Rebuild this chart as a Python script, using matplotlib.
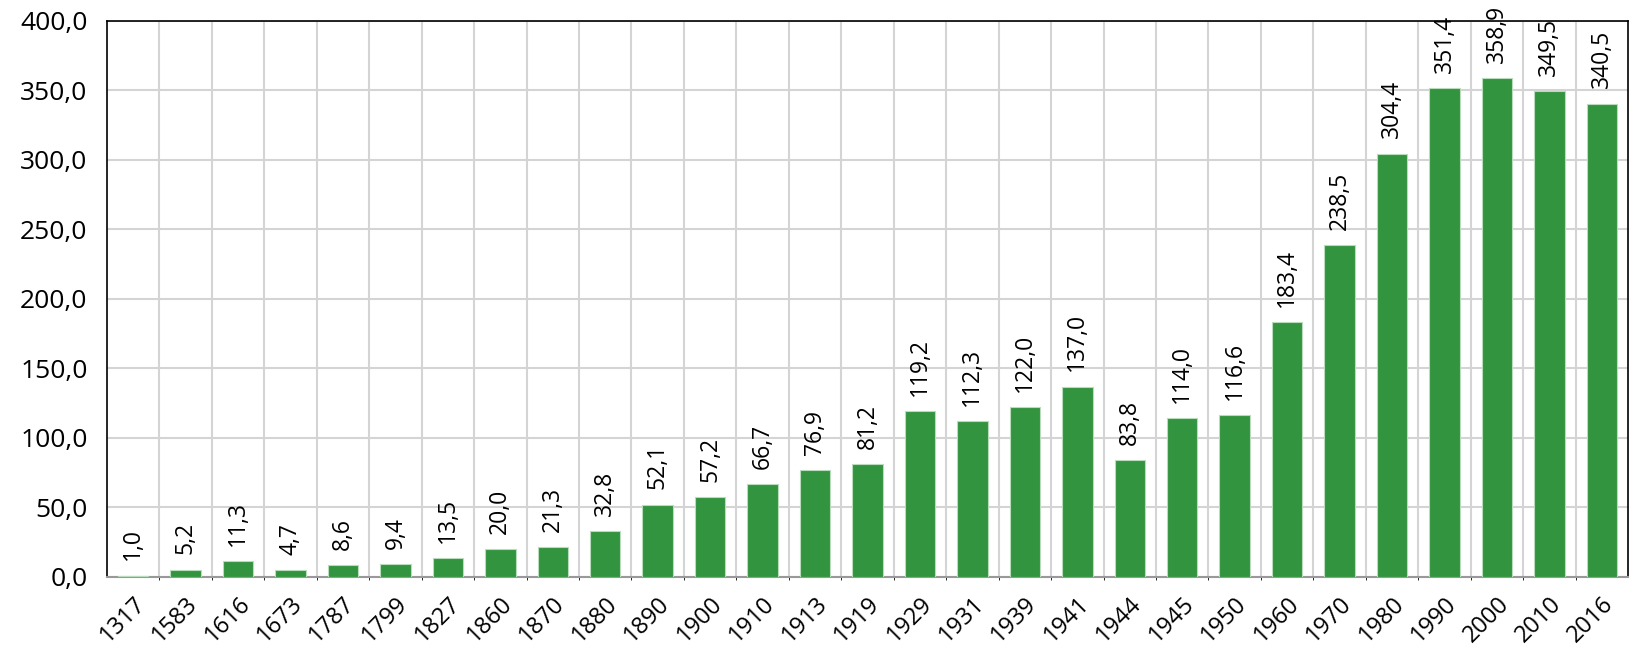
import matplotlib.pyplot as plt

plt.rcParams['font.family'] = ['Open Sans', 'DejaVu Sans']

years = ['1317', '1583', '1616', '1673', '1787', '1799', '1827', '1860', '1870', '1880',
         '1890', '1900', '1910', '1913', '1919', '1929', '1931', '1939', '1941', '1944',
         '1945', '1950', '1960', '1970', '1980', '1990', '2000', '2010', '2016']
values = [1.0, 5.2, 11.3, 4.7, 8.6, 9.4, 13.5, 20.0, 21.3, 32.8,
          52.1, 57.2, 66.7, 76.9, 81.2, 119.2, 112.3, 122.0, 137.0, 83.8,
          114.0, 116.6, 183.4, 238.5, 304.4, 351.4, 358.9, 349.5, 340.5]

fig, ax = plt.subplots(figsize=(16.3, 6.51), dpi=100)
fig.subplots_adjust(left=0.0656, right=0.9988, top=0.968, bottom=0.1137)

x = range(len(years))
bars = ax.bar(x, values, width=0.58, color='#339440', edgecolor='#b9dcbc', linewidth=0.8, zorder=3)

for bar, v in zip(bars, values):
    ax.annotate(f'{v:.1f}'.replace('.', ','),
                (bar.get_x() + bar.get_width() / 2, bar.get_height()),
                xytext=(0, 11), textcoords='offset points',
                rotation=90, ha='center', va='bottom', fontsize=16.5,
                annotation_clip=False)

ax.set_xlim(-0.5, len(years) - 0.5)
ax.set_ylim(0, 400)
ax.set_yticks(range(0, 401, 50))
ax.set_yticklabels([f'{t},0' for t in range(0, 401, 50)], fontsize=19)
ax.set_xticks(list(x))
ax.set_xticklabels(years, rotation=45, ha='right', rotation_mode='anchor', fontsize=17)
ax.tick_params(axis='both', length=0)
ax.tick_params(axis='x', pad=11)
ax.tick_params(axis='y', pad=14)

# vertical grid between categories
ax.set_xticks([i + 0.5 for i in range(len(years) - 1)], minor=True)
ax.grid(axis='x', which='minor', color='#d4d4d4', linewidth=1.5, zorder=0)
ax.grid(axis='y', which='major', color='#d4d4d4', linewidth=1.5, zorder=0)

for s in ['left', 'top', 'right']:
    ax.spines[s].set_color('black')
    ax.spines[s].set_linewidth(1.2)
ax.spines['bottom'].set_color('#999999')
ax.spines['bottom'].set_linewidth(1.5)

plt.savefig('out.png', dpi=100)
